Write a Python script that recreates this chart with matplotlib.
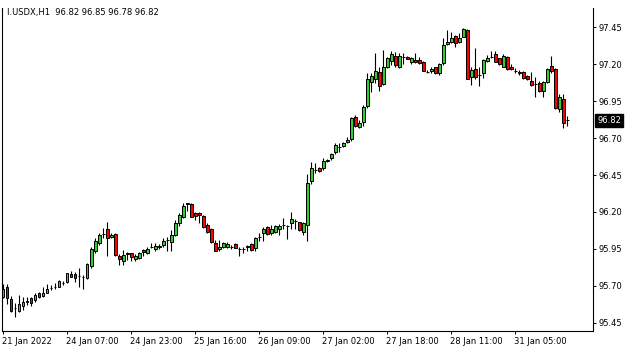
import numpy as np
import matplotlib.pyplot as plt
import matplotlib.transforms as mtransforms

# ----------------------------
# data (H1 candles, I.USDX)
# ----------------------------
opens = [95.626, 95.694, 95.608, 95.547, 95.531, 95.565, 95.590, 95.615, 95.603, 95.653,
         95.633, 95.653, 95.682, 95.694, 95.694, 95.716, 95.728, 95.780, 95.780, 95.766,
         95.761, 95.750, 95.834, 95.937, 95.987, 96.050, 96.082, 96.028, 96.050, 95.901,
         95.868, 95.915, 95.919, 95.879, 95.886, 95.942, 95.919, 95.964, 95.947, 95.960,
         95.976, 96.010, 95.998, 96.044, 96.127, 96.168, 96.253, 96.253, 96.190, 96.190,
         96.172, 96.111, 96.082, 95.987, 95.947, 95.965, 95.965, 95.965, 95.981, 95.947,
         95.946, 95.960, 95.983, 95.953, 96.033, 96.055, 96.100, 96.060, 96.066, 96.087,
         96.112, 96.107, 96.127, 96.139, 96.130, 96.066, 96.109, 96.412, 96.484, 96.495,
         96.495, 96.543, 96.563, 96.608, 96.642, 96.646, 96.671, 96.691, 96.845, 96.772,
         96.811, 96.917, 97.082, 97.098, 97.145, 97.064, 97.179, 97.224, 97.256, 97.183,
         97.247, 97.251, 97.217, 97.229, 97.229, 97.217, 97.150, 97.156, 97.179, 97.143,
         97.206, 97.335, 97.353, 97.391, 97.353, 97.387, 97.432, 97.116, 97.165, 97.127,
         97.138, 97.224, 97.251, 97.269, 97.240, 97.183, 97.251, 97.179, 97.156, 97.150,
         97.150, 97.120, 97.089, 97.064, 97.071, 97.017, 97.082, 97.188, 97.165, 96.894,
         96.962, 96.820]
closes = [95.676, 95.615, 95.531, 95.547, 95.576, 95.590, 95.595, 95.585, 95.637, 95.626,
          95.653, 95.676, 95.682, 95.694, 95.732, 95.716, 95.784, 95.761, 95.750, 95.766,
          95.761, 95.847, 95.947, 96.005, 96.044, 96.050, 96.021, 96.044, 95.906, 95.879,
          95.906, 95.924, 95.897, 95.901, 95.924, 95.926, 95.947, 95.964, 95.969, 95.969,
          96.005, 96.010, 96.044, 96.127, 96.179, 96.240, 96.258, 96.168, 96.172, 96.177,
          96.100, 96.066, 95.999, 95.938, 95.965, 95.987, 95.983, 95.965, 95.958, 95.947,
          95.951, 95.969, 95.942, 96.021, 96.033, 96.082, 96.048, 96.082, 96.105, 96.105,
          96.112, 96.107, 96.150, 96.139, 96.078, 96.123, 96.394, 96.495, 96.484, 96.479,
          96.547, 96.551, 96.590, 96.651, 96.642, 96.664, 96.687, 96.834, 96.782, 96.804,
          96.913, 97.098, 97.120, 97.156, 97.055, 97.183, 97.240, 97.267, 97.195, 97.256,
          97.247, 97.238, 97.240, 97.215, 97.206, 97.156, 97.150, 97.165, 97.138, 97.202,
          97.330, 97.348, 97.375, 97.346, 97.380, 97.436, 97.100, 97.161, 97.116, 97.127,
          97.229, 97.240, 97.251, 97.217, 97.199, 97.256, 97.165, 97.165, 97.156, 97.138,
          97.105, 97.098, 97.057, 97.064, 97.021, 97.080, 97.165, 97.156, 96.901, 96.976,
          96.804, 96.820]
highs = [95.710, 95.710, 95.631, 95.581, 95.637, 95.626, 95.626, 95.626, 95.649, 95.660,
         95.694, 95.710, 95.705, 95.716, 95.740, 95.732, 95.790, 95.802, 95.796, 95.818,
         95.773, 95.852, 95.965, 96.021, 96.055, 96.089, 96.134, 96.055, 96.055, 95.915,
         95.942, 95.930, 95.924, 95.915, 95.930, 95.949, 95.960, 95.987, 95.987, 95.983,
         96.021, 96.028, 96.077, 96.145, 96.190, 96.262, 96.262, 96.262, 96.200, 96.200,
         96.179, 96.123, 96.089, 96.010, 96.010, 95.999, 95.999, 95.976, 95.987, 95.960,
         95.960, 95.974, 95.987, 96.033, 96.055, 96.096, 96.105, 96.112, 96.112, 96.118,
         96.157, 96.112, 96.197, 96.150, 96.134, 96.134, 96.457, 96.540, 96.529, 96.502,
         96.563, 96.556, 96.601, 96.664, 96.669, 96.676, 96.710, 96.845, 96.856, 96.822,
         96.924, 97.138, 97.143, 97.274, 97.183, 97.296, 97.251, 97.292, 97.285, 97.274,
         97.274, 97.256, 97.247, 97.274, 97.247, 97.224, 97.161, 97.183, 97.183, 97.206,
         97.375, 97.432, 97.420, 97.398, 97.409, 97.443, 97.436, 97.183, 97.308, 97.183,
         97.233, 97.262, 97.292, 97.292, 97.244, 97.267, 97.256, 97.202, 97.172, 97.161,
         97.156, 97.127, 97.150, 97.116, 97.089, 97.089, 97.172, 97.256, 97.172, 96.999,
         96.999, 96.850]
lows = [95.615, 95.576, 95.524, 95.486, 95.524, 95.536, 95.570, 95.563, 95.592, 95.620,
        95.626, 95.649, 95.671, 95.676, 95.689, 95.705, 95.716, 95.757, 95.728, 95.689,
        95.676, 95.745, 95.818, 95.919, 95.976, 96.021, 95.901, 96.021, 95.901, 95.840,
        95.840, 95.874, 95.868, 95.870, 95.879, 95.904, 95.915, 95.953, 95.937, 95.947,
        95.964, 95.937, 95.937, 96.037, 96.104, 96.156, 96.208, 96.168, 96.145, 96.127,
        96.089, 96.055, 95.992, 95.938, 95.938, 95.953, 95.953, 95.947, 95.953, 95.902,
        95.924, 95.938, 95.938, 95.938, 96.005, 96.005, 96.044, 96.044, 96.055, 96.044,
        96.082, 96.017, 96.082, 96.082, 96.073, 96.044, 96.005, 96.389, 96.461, 96.472,
        96.484, 96.538, 96.552, 96.590, 96.608, 96.642, 96.664, 96.682, 96.777, 96.766,
        96.782, 96.901, 97.014, 97.071, 97.021, 97.059, 97.172, 97.195, 97.183, 97.177,
        97.202, 97.233, 97.202, 97.206, 97.202, 97.152, 97.138, 97.143, 97.134, 97.125,
        97.195, 97.330, 97.346, 97.314, 97.346, 97.387, 97.098, 97.059, 97.100, 97.055,
        97.105, 97.217, 97.240, 97.217, 97.195, 97.179, 97.161, 97.161, 97.143, 97.125,
        97.100, 97.093, 97.055, 96.976, 97.014, 96.980, 97.075, 97.143, 96.897, 96.879,
        96.766, 96.780]

time_labels = ["21 Jan 2022", "24 Jan 07:00", "24 Jan 23:00", "25 Jan 16:00", "26 Jan 09:00",
               "27 Jan 02:00", "27 Jan 18:00", "28 Jan 11:00", "31 Jan 05:00"]
time_label_bars = [0, 16, 32, 48, 64, 80, 96, 112, 128]
price_ticks = [95.45, 95.70, 95.95, 96.20, 96.45, 96.70, 96.95, 97.20, 97.45]
header = "I.USDX,H1  96.82 96.85 96.78 96.82"
last_price = 96.82

# ----------------------------
# figure
# ----------------------------
W, H = 635, 352
fig = plt.figure(figsize=(W / 100, H / 100), dpi=100)
ax = fig.add_axes([2 / W, 21 / H, 591 / W, 323 / H])

o = np.array(opens)
c = np.array(closes)
hi = np.array(highs)
lo = np.array(lows)
x = np.arange(len(o))

body_colors = np.where(c > o, "#32cd32", np.where(c < o, "#ff0000", "black")).tolist()

ax.vlines(x, lo, hi, color="black", linewidth=0.8, zorder=1)
# filled bodies, then black outline on top
ax.bar(x, c - o, bottom=o, width=0.72, color=body_colors, linewidth=0, zorder=2)
ax.bar(x, c - o, bottom=o, width=0.72, fill=False, edgecolor="black",
       linewidth=0.7, zorder=3)

ax.set_xlim(-0.25, 147.4)
ax.set_ylim(95.394, 97.581)

# frame
for side in ["left", "right", "bottom"]:
    ax.spines[side].set_linewidth(0.8)
    ax.spines[side].set_color("black")
ax.spines["top"].set_visible(False)

# y axis on the right
ax.yaxis.tick_right()
ax.set_yticks(price_ticks)
ax.set_yticklabels([f"{p:.2f}" for p in price_ticks])
ax.tick_params(axis="y", direction="out", length=2.5, width=0.7, pad=1.5,
               labelsize=6, colors="black")

# x axis time labels, left aligned at ticks
ax.set_xticks(time_label_bars)
ax.set_xticklabels(time_labels, ha="left")
ax.tick_params(axis="x", direction="out", length=2.5, width=0.7, pad=2,
               labelsize=6, colors="black")
offset = mtransforms.ScaledTranslation(-1 / 100, 0, fig.dpi_scale_trans)
for lbl in ax.get_xticklabels():
    lbl.set_transform(lbl.get_transform() + offset)

# current price tag
trans = mtransforms.blended_transform_factory(ax.transAxes, ax.transData)
ax.text(1 + 4 / 591, last_price, f"{last_price:.2f}", transform=trans, ha="left",
        va="center", fontsize=6, color="white", clip_on=False,
        bbox=dict(boxstyle="square,pad=0.25", facecolor="black", edgecolor="black"))

fig.text(7 / W, 1 - 12 / H, header, ha="left", va="center", fontsize=6, color="black")

fig.savefig("out.png", dpi=100, facecolor="white")
